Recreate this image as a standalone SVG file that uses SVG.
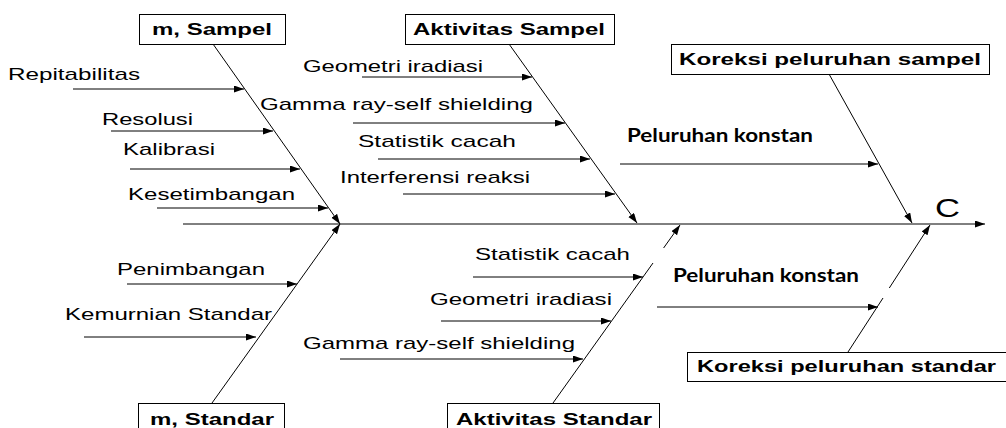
<svg xmlns="http://www.w3.org/2000/svg" width="1006" height="428" viewBox="0 0 1006 428">
<style>
.lbl{font-family:"Liberation Sans",Arial,sans-serif;font-size:17px;fill:#000}
.box{fill:#fff;stroke:#000;stroke-width:1}
.bt{font-family:"Liberation Sans",Arial,sans-serif;font-size:17px;font-weight:bold;fill:#000}
.pk{font-family:Lato,"Open Sans",sans-serif;font-size:18px;font-weight:bold;fill:#000}
.ln{stroke:#000;stroke-width:1;fill:none}
</style>
<defs>
<marker id="ah" markerUnits="userSpaceOnUse" markerWidth="11" markerHeight="8" refX="10" refY="3.5" orient="auto">
<path d="M0,0 L10,3.5 L0,7 z" fill="#000"/>
</marker>
</defs>
<rect width="1006" height="428" fill="#fff"/>
<g id="connectors">
<line class="ln" x1="183" y1="224" x2="985" y2="224" marker-end="url(#ah)"/>
<line class="ln" x1="213" y1="44" x2="340" y2="224" marker-end="url(#ah)"/>
<line class="ln" x1="212" y1="403" x2="340" y2="224" marker-end="url(#ah)"/>
<line class="ln" x1="509" y1="44" x2="637" y2="223" marker-end="url(#ah)"/>
<line class="ln" x1="553" y1="403" x2="653" y2="263"/>
<line class="ln" x1="663.6" y1="248" x2="680" y2="225" marker-end="url(#ah)"/>
<line class="ln" x1="829" y1="74" x2="912" y2="223" marker-end="url(#ah)"/>
<line class="ln" x1="848" y1="352" x2="883" y2="298"/>
<line class="ln" x1="889.3" y1="288" x2="930" y2="225" marker-end="url(#ah)"/>
<line class="ln" x1="73" y1="89" x2="244" y2="89" marker-end="url(#ah)"/>
<line class="ln" x1="111" y1="131" x2="273" y2="131" marker-end="url(#ah)"/>
<line class="ln" x1="130" y1="169" x2="300" y2="169" marker-end="url(#ah)"/>
<line class="ln" x1="157" y1="208" x2="328" y2="208" marker-end="url(#ah)"/>
<line class="ln" x1="127" y1="284" x2="297" y2="284" marker-end="url(#ah)"/>
<line class="ln" x1="84" y1="337" x2="256" y2="337" marker-end="url(#ah)"/>
<line class="ln" x1="362" y1="77" x2="532" y2="77" marker-end="url(#ah)"/>
<line class="ln" x1="353" y1="123" x2="565" y2="123" marker-end="url(#ah)"/>
<line class="ln" x1="378" y1="159" x2="590" y2="159" marker-end="url(#ah)"/>
<line class="ln" x1="403" y1="194" x2="615" y2="194" marker-end="url(#ah)"/>
<line class="ln" x1="473" y1="277" x2="643" y2="277" marker-end="url(#ah)"/>
<line class="ln" x1="441" y1="321" x2="611" y2="321" marker-end="url(#ah)"/>
<line class="ln" x1="340" y1="359" x2="583" y2="359" marker-end="url(#ah)"/>
<line class="ln" x1="620" y1="164" x2="878" y2="164" marker-end="url(#ah)"/>
<line class="ln" x1="657" y1="307" x2="878" y2="307" marker-end="url(#ah)"/>
</g>
<g id="m-sampel"><rect class="box" x="139.5" y="14.5" width="146" height="30"/><text class="bt" x="152" y="35" textLength="120" lengthAdjust="spacingAndGlyphs">m, Sampel</text></g>
<g id="aktivitas-sampel"><rect class="box" x="405.5" y="14.5" width="209" height="30"/><text class="bt" x="413" y="35" textLength="192" lengthAdjust="spacingAndGlyphs">Aktivitas Sampel</text></g>
<g id="koreksi-sampel"><rect class="box" x="671.5" y="44.5" width="318" height="30"/><text class="bt" x="679" y="65" textLength="302" lengthAdjust="spacingAndGlyphs">Koreksi peluruhan sampel</text></g>
<g id="m-standar"><rect class="box" x="138.5" y="403.5" width="146" height="30"/><text class="bt" x="150" y="425" textLength="124" lengthAdjust="spacingAndGlyphs">m, Standar</text></g>
<g id="aktivitas-standar"><rect class="box" x="447.5" y="403.5" width="212" height="30"/><text class="bt" x="456" y="425" textLength="196" lengthAdjust="spacingAndGlyphs">Aktivitas Standar</text></g>
<g id="koreksi-standar"><rect class="box" x="687.5" y="352.5" width="320" height="29"/><text class="bt" x="697" y="372" textLength="299" lengthAdjust="spacingAndGlyphs">Koreksi peluruhan standar</text></g>
<g id="effect"><text class="lbl" x="935" y="217" font-size="26" style="font-size:26px" textLength="25" lengthAdjust="spacingAndGlyphs">C</text></g>
<g id="causes">
<text class="lbl" x="8" y="80" textLength="132" lengthAdjust="spacingAndGlyphs">Repitabilitas</text>
<text class="lbl" x="102" y="125" textLength="91" lengthAdjust="spacingAndGlyphs">Resolusi</text>
<text class="lbl" x="123" y="155" textLength="92" lengthAdjust="spacingAndGlyphs">Kalibrasi</text>
<text class="lbl" x="128" y="200" textLength="167" lengthAdjust="spacingAndGlyphs">Kesetimbangan</text>
<text class="lbl" x="117" y="275" textLength="148" lengthAdjust="spacingAndGlyphs">Penimbangan</text>
<text class="lbl" x="65" y="320" textLength="207" lengthAdjust="spacingAndGlyphs">Kemurnian Standar</text>
<text class="lbl" x="303" y="72" textLength="180" lengthAdjust="spacingAndGlyphs">Geometri iradiasi</text>
<text class="lbl" x="260" y="110" textLength="273" lengthAdjust="spacingAndGlyphs">Gamma ray-self shielding</text>
<text class="lbl" x="358" y="147" textLength="158" lengthAdjust="spacingAndGlyphs">Statistik cacah</text>
<text class="lbl" x="340" y="183" textLength="190" lengthAdjust="spacingAndGlyphs">Interferensi reaksi</text>
<text class="lbl" x="475" y="260" textLength="155" lengthAdjust="spacingAndGlyphs">Statistik cacah</text>
<text class="lbl" x="430" y="305" textLength="182" lengthAdjust="spacingAndGlyphs">Geometri iradiasi</text>
<text class="lbl" x="303" y="349" textLength="272" lengthAdjust="spacingAndGlyphs">Gamma ray-self shielding</text>
<text class="pk" x="627" y="142" textLength="186" lengthAdjust="spacingAndGlyphs">Peluruhan konstan</text>
<text class="pk" x="673" y="282" textLength="186" lengthAdjust="spacingAndGlyphs">Peluruhan konstan</text>
</g>
</svg>
